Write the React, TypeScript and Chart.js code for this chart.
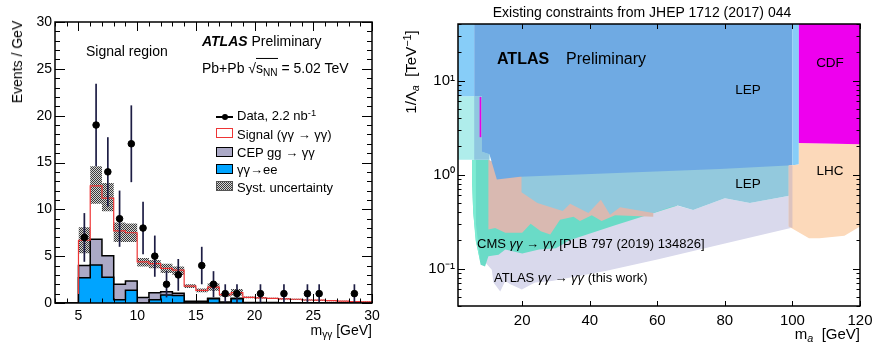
import React, { useEffect, useRef } from "react";
import { Chart, registerables } from "chart.js";
Chart.register(...registerables);

const FONT = '"Liberation Sans", Arial, Helvetica, sans-serif';
Chart.defaults.font.family = FONT;

// ---------------- Left panel data ----------------
const binEdges = [5, 6, 7, 8, 9, 10, 11, 12, 13, 14, 15, 16, 17, 18, 19, 20, 21, 22, 23, 24, 25, 26, 27, 28, 29, 30];
const eeYield = [2.7, 4.05, 2.75, 0.35, 1.35, 0, 0.35, 0.85, 0.8, 0, 0, 0.45, 0, 0.45, 0, 0, 0, 0, 0, 0, 0, 0, 0, 0, 0];
const cepYield = [1.3, 2.75, 2.3, 1.65, 1.0, 0.6, 0.75, 0.35, 0.25, 0.2, 0.2, 0.05, 0.1, 0.05, 0.06, 0.05, 0.05, 0.04, 0.04, 0.03, 0.03, 0.02, 0.02, 0.02, 0.02];
const signalYield = [2.7, 5.7, 6.15, 5.7, 5.15, 3.8, 3.1, 2.5, 2.45, 1.6, 1.15, 1.2, 0.8, 0.6, 0.54, 0.5, 0.45, 0.41, 0.36, 0.29, 0.27, 0.23, 0.18, 0.13, 0.1];
const systLow = [5.3, 10.6, 9.8, 6.5, 6.5, 3.9, 3.7, 3.2, 3.0, 1.6, 1.15, 1.3, 0.7, 0.8, 0.5, 0.47, 0.43, 0.38, 0.34, 0.27, 0.25, 0.2, 0.16, 0.12, 0.09];
const systHigh = [8.1, 14.6, 12.8, 8.6, 8.5, 4.8, 4.6, 4.2, 3.9, 2.0, 1.55, 2.1, 1.05, 1.5, 0.7, 0.63, 0.57, 0.52, 0.46, 0.37, 0.35, 0.3, 0.24, 0.18, 0.15];
const dataMass = [5.5, 6.5, 7.5, 8.5, 9.5, 10.5, 11.5, 12.5, 13.5, 15.5, 16.5, 17.5, 18.5, 20.5, 22.5, 24.5, 25.5, 28.5];
const dataCounts = [7, 19, 14, 9, 17, 8, 5, 2, 3, 4, 2, 1, 1, 1, 1, 1, 1, 1];
const dataErrors = [2.6, 4.4, 3.7, 3.0, 4.1, 2.8, 2.2, 1.4, 1.7, 2.0, 1.4, 1, 1, 1, 1, 1, 1, 1];
const leftXTicks = [5, 10, 15, 20, 25, 30];
const leftYTicks = [0, 5, 10, 15, 20, 25, 30];

// ---------------- Right panel data (region outlines: [m_a GeV, 1/Lambda TeV^-1]) ----------------
const atlasThisWork = [[6.6, 1.0], [6.6, 0.18], [7.9, 0.13], [11, 0.097], [11.5, 0.071], [13.5, 0.057], [15, 0.074], [16.5, 0.068], [19.9, 0.06], [23.8, 0.071], [28.8, 0.074], [45, 0.095], [60, 0.125], [80, 0.185], [99.5, 0.27], [99.5, 0.6], [87.4, 0.5], [80, 0.56], [70.6, 0.42], [65.7, 0.47], [50, 1.0]];
const cmsRegion = [[5.2, 1.44], [10.3, 1.44], [10.3, 1.0], [58.8, 0.6], [66, 0.47], [47.5, 0.29], [34, 0.2], [30, 0.165], [25, 0.16], [20, 0.145], [15, 0.16], [13, 0.14], [10, 0.135], [9, 0.105], [7.7, 0.11], [6.3, 0.2], [5.5, 0.4], [5.2, 0.8]];
const cmsEdge = [[5.2, 1.44], [6.3, 1.44], [6.3, 0.3], [7.6, 0.12], [6.2, 0.2], [5.5, 0.4], [5.2, 0.8]];
const beamDump = [[10, 1.44], [10, 0.26], [12, 0.27], [15, 0.24], [20, 0.24], [22.5, 0.3], [25.5, 0.25], [28.3, 0.23], [31.2, 0.33], [35.2, 0.355], [37.1, 0.32], [40.6, 0.37], [43.5, 0.32], [47.5, 0.37], [58.8, 0.355], [58.8, 0.6], [20, 1.0]];
const lepLower = [[19.8, 1.0], [19.8, 0.65], [24.5, 0.5], [32, 0.41], [34.2, 0.49], [39.6, 0.39], [43.3, 0.54], [46, 0.375], [49, 0.45], [58.8, 0.39], [63.7, 0.45], [66, 0.47], [70.6, 0.42], [80, 0.56], [87.4, 0.5], [99.5, 0.6], [99.5, 1.3], [78, 1.2]];
const lowMassPale = [[1, 1.44], [10.3, 1.44], [10.3, 6.8], [1, 6.8]];
const lowMassSky = [[1, 6.8], [5.8, 6.8], [5.8, 40], [1, 40]];
const lowMassMixed = [[5.8, 6.8], [8.1, 6.8], [8.1, 1.75], [10.3, 1.65], [10.3, 1.44], [5.8, 1.44]];
const lepMain = [[5.8, 40], [100, 40], [100, 1.26], [78.5, 1.15], [19.4, 0.95], [12.5, 0.885], [10.3, 1.65], [8.1, 1.75], [8.1, 6.8], [5.8, 6.8]];
const skyRight = [[100, 1.26], [101.9, 1.28], [101.9, 40], [100, 40]];
const magentaStrip = [[7.4, 2.5], [7.9, 2.5], [7.9, 6.7], [7.4, 6.7]];
const lhcRegion = [[98.9, 1.25], [100, 1.26], [101.9, 1.28], [101.9, 2.17], [120, 2.1], [120, 0.28], [115.4, 0.224], [108, 0.21], [104.9, 0.21], [98.9, 0.28]];
const lhcOverlap = [[98.9, 0.28], [100, 0.27], [100, 1.26], [98.9, 1.25]];
const cdfRegion = [[101.9, 2.17], [120, 2.1], [120, 40], [101.9, 40]];
const rightXTicks = [20, 40, 60, 80, 100, 120];
const rightYTicks = [0.1, 1, 10];
const rightYLabels = ["10\u207B\u00B9", "10\u2070", "10\u00B9"];

// ---------------- helpers ----------------
function makeHatch(): CanvasPattern | string {
  const c = document.createElement("canvas");
  c.width = 2;
  c.height = 2;
  const g = c.getContext("2d");
  if (!g) return "#888";
  g.fillStyle = "#d4d4d4";
  g.fillRect(0, 0, 2, 2);
  g.fillStyle = "#3a3a3a";
  g.fillRect(0, 0, 1, 1);
  g.fillRect(1, 1, 1, 1);
  return g.createPattern(c, "repeat") || "#888";
}

function range(a: number, b: number, step: number, skip: number[] = []) {
  const out: number[] = [];
  for (let v = a; v <= b + 1e-9; v += step) {
    const r = Math.round(v * 1000) / 1000;
    if (!skip.some((s) => Math.abs(s - r) < 1e-9)) out.push(r);
  }
  return out;
}

function zeroPad(s: any) {
  s.paddingLeft = 0;
  s.paddingRight = 0;
  s.paddingTop = 0;
  s.paddingBottom = 0;
}

function framePlugin(cfg: any) {
  return {
    id: "frameTicks",
    afterDatasetsDraw(chart: any) {
      const { ctx, chartArea: a, scales } = chart;
      const x = scales.x;
      const y = scales.y;
      ctx.save();
      ctx.strokeStyle = "#000";
      ctx.lineWidth = 1;
      ctx.beginPath();
      const tick = (vals: number[], len: number, isX: boolean) => {
        vals.forEach((v) => {
          if (isX) {
            const p = Math.round(x.getPixelForValue(v)) + 0.5;
            ctx.moveTo(p, a.bottom);
            ctx.lineTo(p, a.bottom - len);
            ctx.moveTo(p, a.top);
            ctx.lineTo(p, a.top + len);
          } else {
            const p = Math.round(y.getPixelForValue(v)) + 0.5;
            ctx.moveTo(a.left, p);
            ctx.lineTo(a.left + len, p);
            ctx.moveTo(a.right, p);
            ctx.lineTo(a.right - len, p);
          }
        });
      };
      tick(cfg.xMajor, cfg.xMajorLen, true);
      tick(cfg.xMinor, cfg.xMinorLen, true);
      tick(cfg.yMajor, cfg.yMajorLen, false);
      tick(cfg.yMinor, cfg.yMinorLen, false);
      ctx.stroke();
      ctx.lineWidth = 1.5;
      ctx.strokeRect(a.left, a.top, a.right - a.left, a.bottom - a.top);
      ctx.restore();
    },
  };
}

const errorBarPlugin = {
  id: "errorBars",
  beforeDatasetDraw(chart: any, args: any) {
    if (args.index !== 0) return;
    const { ctx, scales, chartArea: a } = chart;
    ctx.save();
    ctx.beginPath();
    ctx.rect(a.left, a.top, a.right - a.left, a.bottom - a.top);
    ctx.clip();
    ctx.strokeStyle = "#1d1d44";
    ctx.lineWidth = 1.7;
    dataMass.forEach((m, i) => {
      const px = scales.x.getPixelForValue(m);
      ctx.beginPath();
      ctx.moveTo(px, scales.y.getPixelForValue(dataCounts[i] - dataErrors[i]));
      ctx.lineTo(px, scales.y.getPixelForValue(dataCounts[i] + dataErrors[i]));
      ctx.stroke();
    });
    ctx.restore();
  },
};

const baseLine = {
  pointRadius: 0,
  tension: 0,
  stepped: true as any,
};

function LeftChart() {
  const ref = useRef<HTMLCanvasElement>(null);
  useEffect(() => {
    if (!ref.current) return;
    const n = binEdges.length - 1;
    const bkg = eeYield.map((v, i) => v + cepYield[i]);
    const tot = bkg.map((v, i) => v + signalYield[i]);
    const hist = (vals: number[], startX: number) => {
      const pts = [{ x: startX, y: 0 }];
      for (let i = 0; i < n; i++) pts.push({ x: binEdges[i], y: vals[i] });
      pts.push({ x: binEdges[n], y: 0 });
      return pts;
    };
    const band = (vals: number[]) => {
      const pts = vals.map((v, i) => ({ x: binEdges[i], y: v }));
      pts.push({ x: binEdges[n], y: vals[n - 1] });
      return pts;
    };
    const hatch = makeHatch();
    const chart = new Chart(ref.current, {
      type: "line",
      data: {
        datasets: [
          {
            data: dataMass.map((m, i) => ({ x: m, y: dataCounts[i] })),
            showLine: false,
            pointRadius: 3.3,
            pointBackgroundColor: "#000",
            pointBorderColor: "#000",
            borderColor: "#000",
            order: 0,
          } as any,
          { ...baseLine, data: hist(tot, 5), borderColor: "#ee3535", borderWidth: 1.2, fill: false, order: 1 },
          { ...baseLine, data: hist(eeYield, 3), borderColor: "#000", borderWidth: 1.5, backgroundColor: "#00a4ff", fill: "origin", order: 2 },
          { ...baseLine, data: hist(bkg, 3), borderColor: "#000", borderWidth: 1.5, backgroundColor: "#aba9c6", fill: "origin", order: 3 },
          { ...baseLine, data: band(systHigh), borderColor: "rgba(0,0,0,0)", borderWidth: 0, backgroundColor: hatch, fill: 5, order: 4 },
          { ...baseLine, data: band(systLow), borderColor: "rgba(0,0,0,0)", borderWidth: 0, fill: false, order: 5 },
        ],
      },
      options: {
        responsive: false,
        animation: false,
        events: [],
        layout: { padding: { top: 22, right: 8, left: 0, bottom: 0 } },
        plugins: { legend: { display: false }, tooltip: { enabled: false } },
        scales: {
          x: {
            type: "linear",
            min: 3,
            max: 30,
            grid: { display: false, drawTicks: false },
            border: { display: false },
            ticks: { color: "#000", font: { size: 14, family: FONT }, padding: 5, maxRotation: 0, autoSkip: false },
            afterBuildTicks: (s: any) => {
              s.ticks = leftXTicks.map((v) => ({ value: v }));
            },
            afterFit: (s: any) => {
              s.height = 44;
              zeroPad(s);
            },
          },
          y: {
            type: "linear",
            min: 0,
            max: 30,
            grid: { display: false, drawTicks: false },
            border: { display: false },
            ticks: { color: "#000", font: { size: 14, family: FONT }, padding: 3, autoSkip: false },
            afterBuildTicks: (s: any) => {
              s.ticks = leftYTicks.map((v) => ({ value: v }));
            },
            afterFit: (s: any) => {
              s.width = 55;
              zeroPad(s);
            },
          },
        },
      } as any,
      plugins: [
        framePlugin({
          xMajor: leftXTicks,
          xMinor: range(3, 30, 1, leftXTicks),
          yMajor: leftYTicks,
          yMinor: range(0, 30, 1, leftYTicks),
          xMajorLen: 9,
          xMinorLen: 4.5,
          yMajorLen: 10,
          yMinorLen: 5,
        }),
        errorBarPlugin,
      ],
    });
    return () => chart.destroy();
  }, []);
  return <canvas ref={ref} width={380} height={347} style={{ position: "absolute", left: 0, top: 0, width: 380, height: 347 }} />;
}

const regions: { pts: number[][]; color: string }[] = [
  { pts: atlasThisWork, color: "#d9d9ec" },
  { pts: cmsRegion, color: "#6adbc7" },
  { pts: cmsEdge, color: "#7decd3" },
  { pts: beamDump, color: "#d9b9b1" },
  { pts: lepLower, color: "#93c9dd" },
  { pts: lowMassPale, color: "#afedeb" },
  { pts: lowMassSky, color: "#87cdf8" },
  { pts: lowMassMixed, color: "#90c7e0" },
  { pts: lepMain, color: "#6faae3" },
  { pts: skyRight, color: "#87cdf8" },
  { pts: magentaStrip, color: "#e600e6" },
  { pts: lhcRegion, color: "#fcd9ba" },
  { pts: lhcOverlap, color: "#dcc3bf" },
  { pts: cdfRegion, color: "#ee00ee" },
];

function RightChart() {
  const ref = useRef<HTMLCanvasElement>(null);
  useEffect(() => {
    if (!ref.current) return;
    const N = regions.length;
    const logMinor: number[] = [];
    [0.01, 0.1, 1, 10].forEach((d) => {
      for (let k = 2; k <= 9; k++) {
        const v = Math.round(d * k * 1000) / 1000;
        if (v >= 0.04 && v <= 40) logMinor.push(v);
      }
    });
    const chart = new Chart(ref.current, {
      type: "line",
      data: {
        datasets: regions.map((r, i) => ({
          data: r.pts.map((p) => ({ x: p[0], y: p[1] })),
          backgroundColor: r.color,
          borderColor: "rgba(0,0,0,0)",
          borderWidth: 0,
          pointRadius: 0,
          tension: 0,
          fill: "shape",
          order: N - i,
        })) as any,
      },
      options: {
        responsive: false,
        animation: false,
        events: [],
        layout: { padding: { top: 24, right: 12, left: 0, bottom: 0 } },
        plugins: { legend: { display: false }, tooltip: { enabled: false } },
        scales: {
          x: {
            type: "linear",
            min: 1,
            max: 120,
            grid: { display: false, drawTicks: false },
            border: { display: false },
            ticks: { color: "#000", font: { size: 15, family: FONT }, padding: 6, maxRotation: 0, autoSkip: false },
            afterBuildTicks: (s: any) => {
              s.ticks = rightXTicks.map((v) => ({ value: v }));
            },
            afterFit: (s: any) => {
              s.height = 41;
              zeroPad(s);
            },
          },
          y: {
            type: "logarithmic",
            min: 0.04,
            max: 40,
            grid: { display: false, drawTicks: false },
            border: { display: false },
            ticks: {
              color: "#000",
              font: { size: 15, family: FONT },
              padding: 3,
              autoSkip: false,
              callback: (v: any) => {
                const i = rightYTicks.indexOf(Number(v));
                return i >= 0 ? rightYLabels[i] : "";
              },
            },
            afterBuildTicks: (s: any) => {
              s.ticks = rightYTicks.map((v) => ({ value: v }));
            },
            afterFit: (s: any) => {
              s.width = 58;
              zeroPad(s);
            },
          },
        },
      } as any,
      plugins: [
        framePlugin({
          xMajor: rightXTicks,
          xMinor: [],
          yMajor: rightYTicks,
          yMinor: logMinor,
          xMajorLen: 5,
          xMinorLen: 0,
          yMajorLen: 7,
          yMinorLen: 3.5,
        }),
      ],
    });
    return () => chart.destroy();
  }, []);
  return <canvas ref={ref} width={472} height={347} style={{ position: "absolute", left: 400, top: 0, width: 472, height: 347 }} />;
}

type LP = {
  x: number;
  y: number;
  size?: number;
  align?: "l" | "c" | "r";
  rotate?: boolean;
  bold?: boolean;
  italic?: boolean;
  children: React.ReactNode;
};
function Label({ x, y, size = 14, align = "l", rotate, bold, italic, children }: LP) {
  const tx = align === "l" ? "0" : align === "c" ? "-50%" : "-100%";
  return (
    <div
      style={{
        position: "absolute",
        left: x,
        top: y,
        fontSize: size,
        lineHeight: 1,
        fontFamily: FONT,
        whiteSpace: "nowrap",
        fontWeight: bold ? "bold" : "normal",
        fontStyle: italic ? "italic" : "normal",
        color: "#000",
        transform: `translate(${tx},-50%)` + (rotate ? " rotate(-90deg)" : ""),
        transformOrigin: align === "c" ? "center" : undefined,
      }}
    >
      {children}
    </div>
  );
}

const sub: React.CSSProperties = { fontSize: "0.72em", position: "relative", top: "0.3em" };
const sup: React.CSSProperties = { fontSize: "0.72em", position: "relative", top: "-0.45em" };

function Swatch({ x, y, style }: { x: number; y: number; style: React.CSSProperties }) {
  return <div style={{ position: "absolute", left: x, top: y, width: 17, height: 10, boxSizing: "border-box", ...style }} />;
}

export default function App() {
  return (
    <div style={{ position: "absolute", left: 0, top: 0, width: 872, height: 347, overflow: "hidden", background: "#fff" }}>
      <LeftChart />
      <RightChart />
      {/* left panel texts */}
      <Label x={17} y={62} align="c" rotate>
        Events / GeV
      </Label>
      <Label x={86} y={51}>Signal region</Label>
      <Label x={202} y={41}>
        <b>
          <i>ATLAS</i>
        </b>{" "}
        Preliminary
      </Label>
      <Label x={202} y={68}>
        Pb+Pb{" "}
        <span>
          √<span style={{ borderTop: "1px solid #000", paddingTop: 1 }}>
            s<span style={sub}>NN</span>
          </span>
        </span>{" "}
        = 5.02 TeV
      </Label>
      {/* legend */}
      <div style={{ position: "absolute", left: 216, top: 116, width: 17, height: 1.5, background: "#000" }} />
      <div style={{ position: "absolute", left: 221.5, top: 113.5, width: 6.5, height: 6.5, borderRadius: "50%", background: "#000" }} />
      <Label x={237} y={116} size={13}>
        Data, 2.2 nb<span style={sup}>-1</span>
      </Label>
      <Swatch x={216} y={128} style={{ border: "1.2px solid #ee3535", background: "#fff" }} />
      <Label x={237} y={133.5} size={13}>
        Signal (γγ → γγ)
      </Label>
      <Swatch x={216} y={147} style={{ border: "1.5px solid #000", background: "#aba9c6" }} />
      <Label x={237} y={152} size={13}>
        CEP gg → γγ
      </Label>
      <Swatch x={216} y={164} style={{ border: "1.5px solid #000", background: "#00a4ff" }} />
      <Label x={237} y={169} size={13}>
        γγ→ee
      </Label>
      <Swatch
        x={216}
        y={181}
        style={{ border: "1px solid #555", background: "repeating-conic-gradient(#3a3a3a 0% 25%, #d4d4d4 0% 50%) 0 0 / 2px 2px" }}
      />
      <Label x={237} y={186.5} size={13}>
        Syst. uncertainty
      </Label>
      <Label x={372} y={330} align="r">
        m<span style={sub}>γγ</span> [GeV]
      </Label>

      {/* right panel texts */}
      <Label x={642} y={12} align="c">
        Existing constraints from JHEP 1712 (2017) 044
      </Label>
      <Label x={410} y={72} align="c" rotate size={15}>
        1/Λ<span style={{ ...sub, fontStyle: "italic" }}>a</span>&nbsp; [TeV<span style={sup}>−1</span>]
      </Label>
      <Label x={497} y={59} size={16} bold>
        ATLAS
      </Label>
      <Label x={566} y={59} size={16}>
        Preliminary
      </Label>
      <Label x={748} y={90} align="c" size={13.5}>
        LEP
      </Label>
      <Label x={748} y={184} align="c" size={13.5}>
        LEP
      </Label>
      <Label x={830} y={63} align="c" size={13.5}>
        CDF
      </Label>
      <Label x={830} y={171} align="c" size={13.5}>
        LHC
      </Label>
      <Label x={477} y={243} size={13}>
        CMS <i>γγ</i> → <i>γγ</i> [PLB 797 (2019) 134826]
      </Label>
      <Label x={494} y={277} size={13}>
        ATLAS <i>γγ</i> → <i>γγ</i> (this work)
      </Label>
      <Label x={860} y={333} align="r" size={15}>
        m<span style={{ ...sub, fontStyle: "italic" }}>a</span>&nbsp; [GeV]
      </Label>
    </div>
  );
}
